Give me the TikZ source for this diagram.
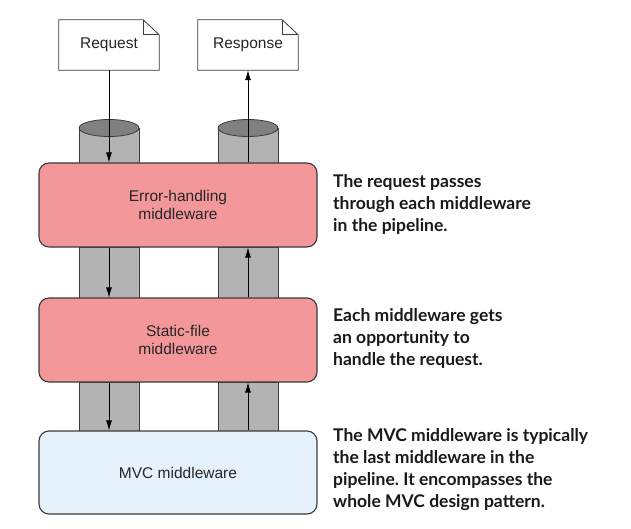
\documentclass[tikz,border=0pt]{standalone}
\usepackage{fontspec}
\setmainfont{Liberation Sans}
\newfontfamily\notefont{Lato}
\usepackage{xcolor}
\definecolor{mwpink}{HTML}{F4979B}
\definecolor{mwblue}{HTML}{E6F2FB}
\definecolor{pipebody}{HTML}{B3B3B3}
\definecolor{pipetop}{HTML}{808080}
\definecolor{edgegray}{HTML}{3A3A3A}
\usetikzlibrary{arrows.meta,calc,positioning}
\frenchspacing

\begin{document}
\begin{tikzpicture}[x=1pt, y=-1pt, >={Latex[length=10pt,width=6pt]}, font=\fontsize{15.5}{18}\selectfont,
		mwbox/.style={draw=edgegray, line width=1.1pt, rounded corners=10pt, minimum width=278pt, minimum height=84pt, align=center, text=black!85},
		docbox/.style={minimum width=100pt, minimum height=50pt, text=black!85},
		pipe/.style={fill=pipebody, draw=edgegray, line width=0.8pt},
		flow/.style={->, line width=0.8pt, black},
		note/.style={anchor=west, align=left, inner sep=0pt, text=black!90, font=\notefont\bfseries\fontsize{17.5}{22}\selectfont}]
			\useasboundingbox (0,0) rectangle (631,529);

			% pipes behind the middleware boxes
			\foreach \x in {109,248} {
				\fill[pipebody] ({\x-30},128) rectangle ({\x+30},163);
				\draw[edgegray, line width=0.8pt] ({\x-30},128) -- ({\x-30},163) ({\x+30},128) -- ({\x+30},163);
				\draw[edgegray, line width=0.8pt, fill=pipetop] (\x,128) ellipse (30pt and 8.5pt);
				\foreach \ya/\yb in {247/298, 382/431} {
					\draw[pipe] ({\x-30},\ya) rectangle ({\x+30},\yb);
				}
			}

			\node[mwbox, fill=mwpink] (err) at (178,205) {Error-handling\\middleware};
			\node[mwbox, fill=mwpink] (static) at (178,340) {Static-file\\middleware};
			\node[mwbox, fill=mwblue, minimum height=83pt] (mvc) at (178,472.5) {MVC middleware};

			\node[docbox] (req) at (109,45) {Request};
			\node[docbox] (resp) at (248,45) {Response};
			\foreach \d in {req,resp} {
				\draw[edgegray, line width=0.8pt] (\d.south west) -- (\d.north west) -- ([xshift=-16pt]\d.north east) -- ([yshift=-15pt]\d.north east) -- (\d.south east) -- cycle;
				\draw[edgegray, line width=0.8pt] ([xshift=-16pt]\d.north east) |- ([yshift=-15pt]\d.north east);
			}

			\draw[flow] (req.south) -- (req.south |- err.north);
			\draw[flow] (resp.south |- err.north) -- (resp.south);
			\draw[flow] (req.south |- err.south) -- (req.south |- static.north);
			\draw[flow] (resp.south |- static.north) -- (resp.south |- err.south);
			\draw[flow] (req.south |- static.south) -- (req.south |- mvc.north);
			\draw[flow] (resp.south |- mvc.north) -- (resp.south |- static.south);

			\node[note] (n1) at (333,204) {The request passes\\through each middleware\\in the pipeline.};
			\node[note] (n2) at (333,338) {Each middleware gets\\an opportunity to\\handle the request.};
			\node[note] (n3) at (333,470) {The MVC middleware is typically\\the last middleware in the\\pipeline. It encompasses the\\whole MVC design pattern.};
		\end{tikzpicture}
\end{document}
